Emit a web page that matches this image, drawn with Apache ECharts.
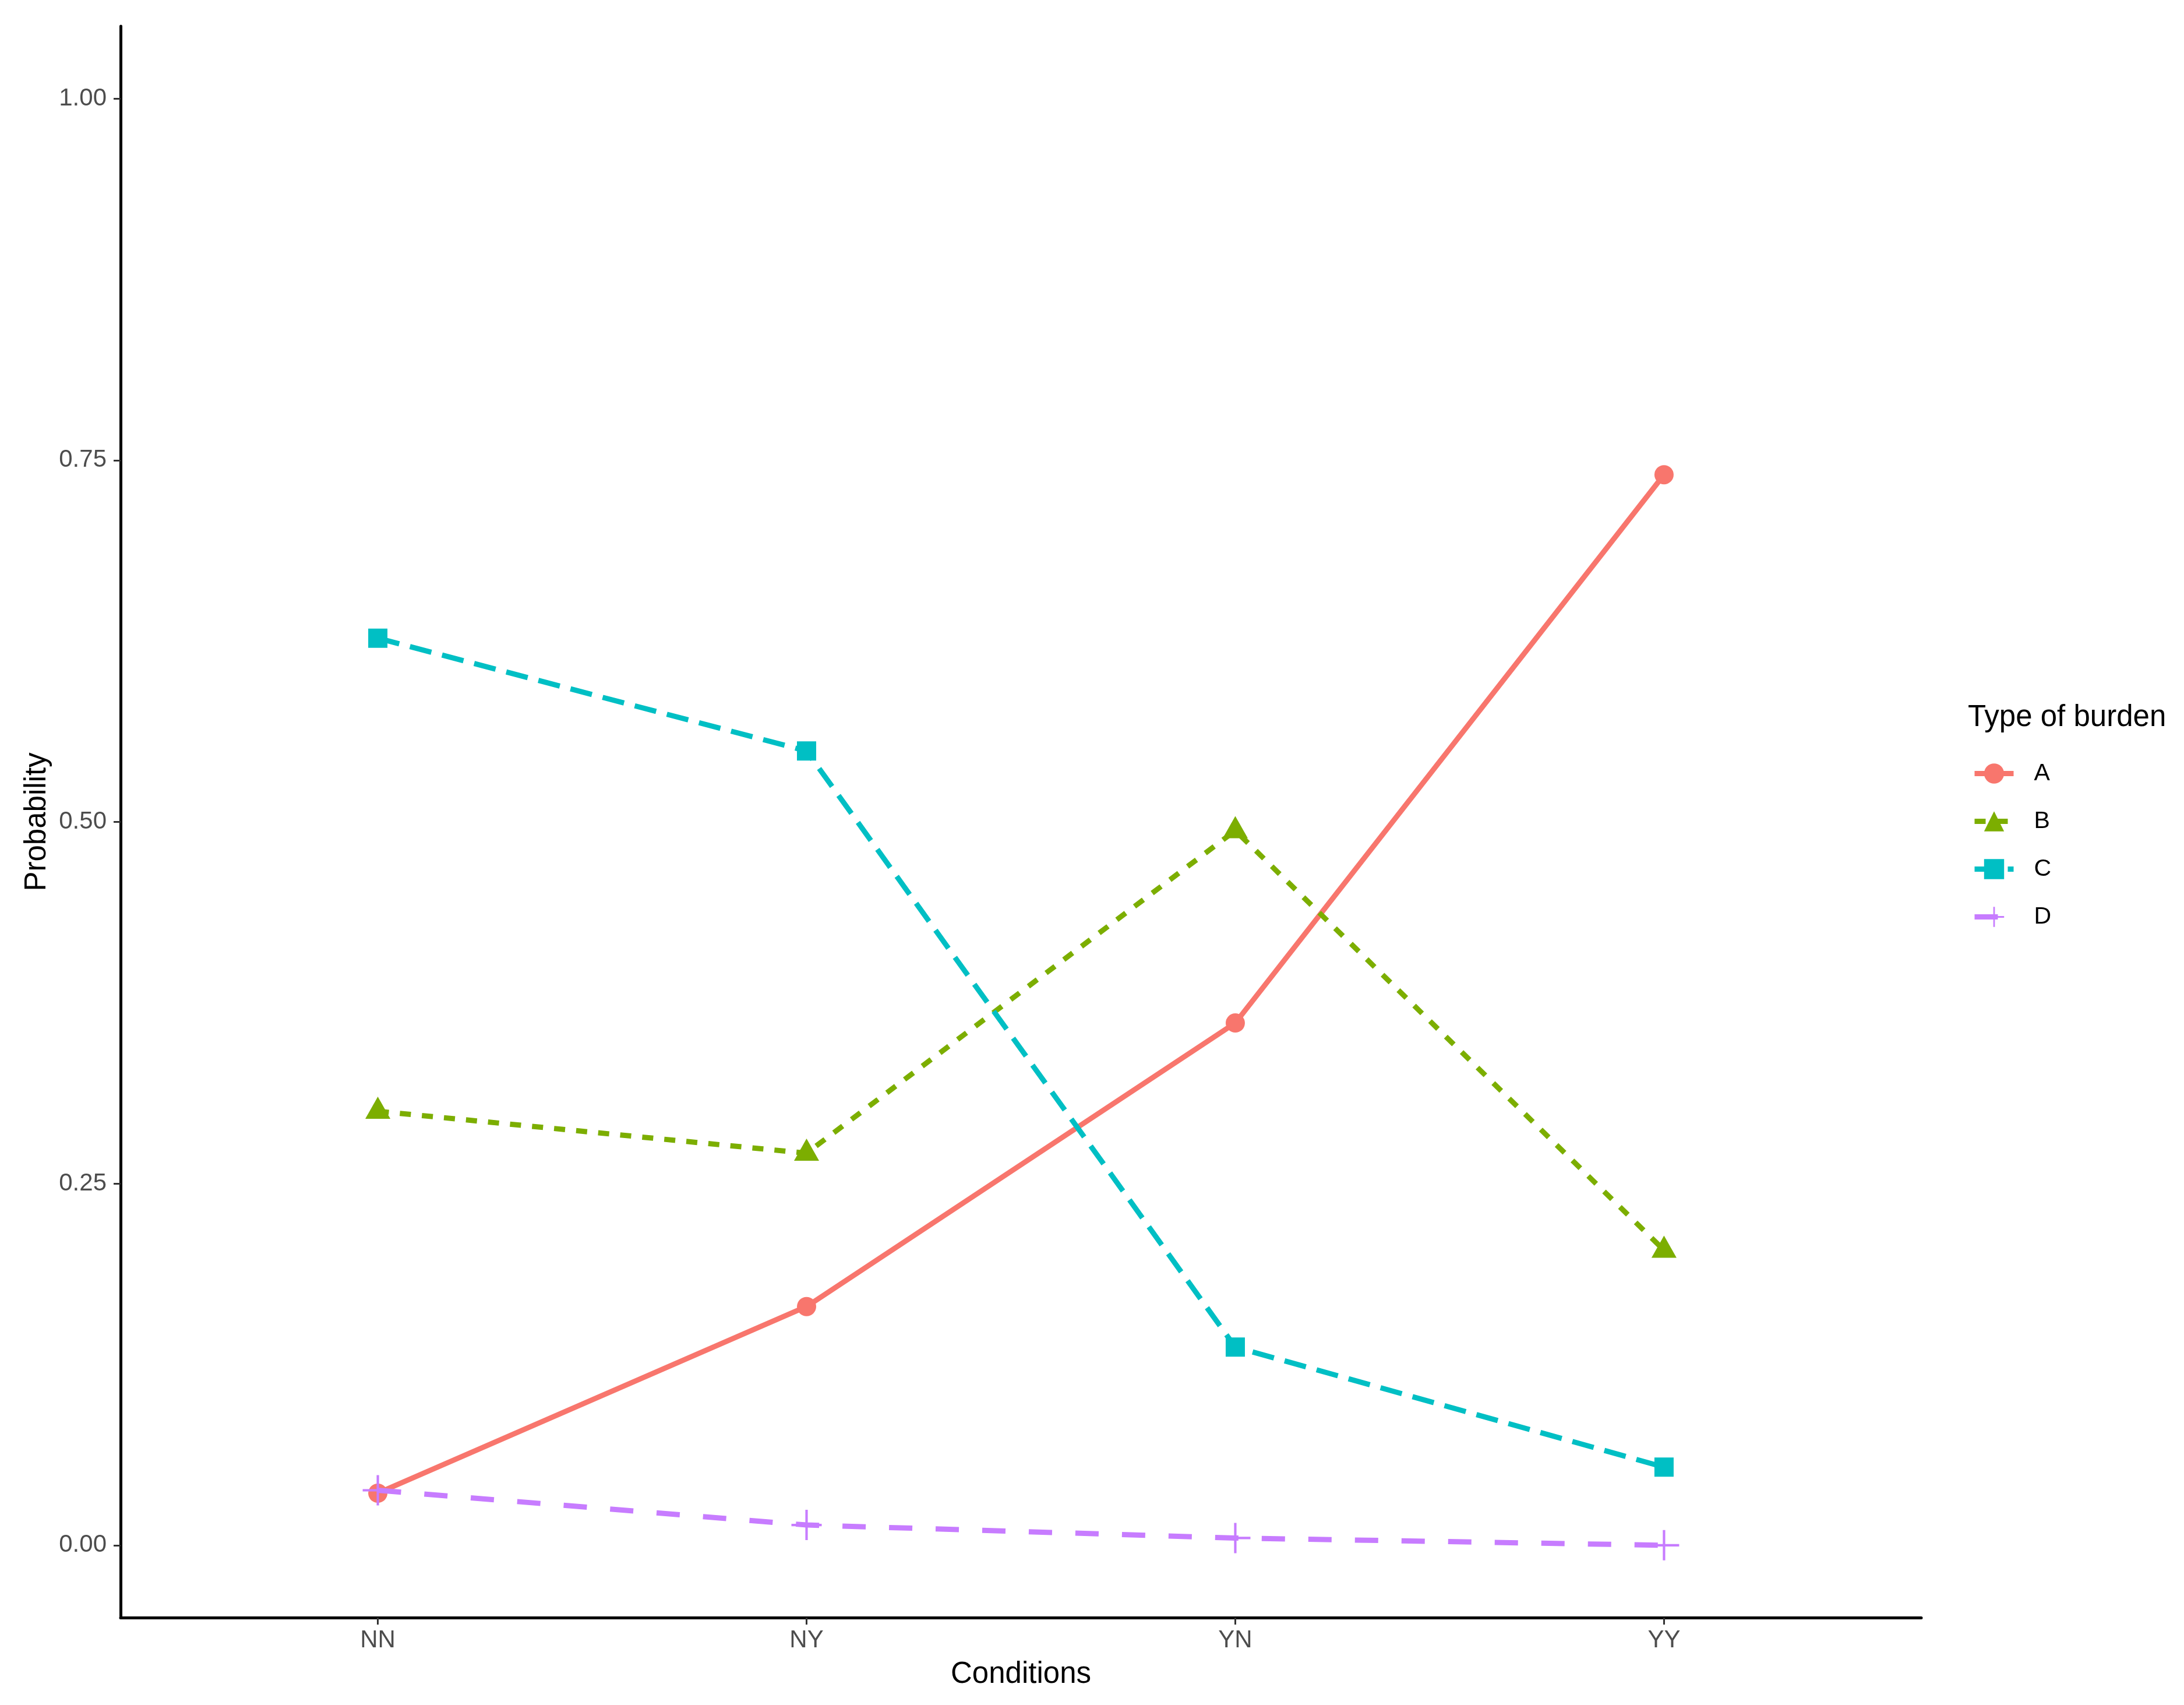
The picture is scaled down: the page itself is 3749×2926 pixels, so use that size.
<!DOCTYPE html>
<html><head><meta charset="utf-8">
<script src="https://cdn.jsdelivr.net/npm/echarts@6/dist/echarts.min.js"></script>
<style>html,body{margin:0;padding:0;background:#fff}#c{width:3749px;height:2926px}</style>
</head><body><div id="c"></div>
<script>
const categories = ['NN', 'NY', 'YN', 'YY'];
const seriesNames = ['A', 'B', 'C', 'D'];
const valuesA = [0.036, 0.165, 0.361, 0.740];
const valuesB = [0.300, 0.271, 0.494, 0.204];
const valuesC = [0.627, 0.549, 0.137, 0.054];
const valuesD = [0.038, 0.014, 0.005, 0.000];
const yTicks = [0, 0.25, 0.5, 0.75, 1.0];
const legendTitle = 'Type of burden';
const xTitle = 'Conditions';
const yTitle = 'Probability';

const colors = ['#F8766D', '#7CAE00', '#00BFC4', '#C77CFF'];
const FONT = '"Liberation Sans", Arial, Helvetica, sans-serif';
const plusPath = 'path://M0,4.6H4.6V0H5.4V4.6H10V5.4H5.4V10H4.6V5.4H0Z';

function pts(vals) { return vals.map((v, i) => [i, v]); }

const styles = [
  { symbol: 'circle', symbolSize: 33, symbolOffset: [0, 0], type: 'solid' },
  { symbol: 'triangle', symbolSize: [43, 38], symbolOffset: [0, -6], type: [19, 19] },
  { symbol: 'rect', symbolSize: 33, symbolOffset: [0, 0], type: [38, 19] },
  { symbol: plusPath, symbolSize: 52, symbolOffset: [0, 0], type: [40, 40] }
];
const allValues = [valuesA, valuesB, valuesC, valuesD];

const series = seriesNames.map((name, k) => ({
  name: name,
  type: 'line',
  data: pts(allValues[k]),
  symbol: styles[k].symbol,
  symbolSize: styles[k].symbolSize,
  symbolOffset: styles[k].symbolOffset,
  showAllSymbol: true,
  animation: false,
  z: 2 + k,
  itemStyle: { color: colors[k], opacity: 1 },
  lineStyle: { color: colors[k], width: 9, type: styles[k].type, cap: 'butt' },
  emphasis: { disabled: true }
}));

const chart = echarts.init(document.getElementById('c'), null, { renderer: 'canvas' });
chart.setOption({
  backgroundColor: '#ffffff',
  animation: false,
  title: {
    text: legendTitle,
    left: 3378,
    top: 1206,
    padding: 0,
    textStyle: { fontFamily: FONT, fontSize: 51, fontWeight: 'normal', color: '#000' }
  },
  legend: {
    data: seriesNames,
    orient: 'vertical',
    left: 3385,
    top: 1307,
    padding: 0,
    itemWidth: 67,
    itemHeight: 43,
    itemGap: 41,
    lineStyle: { width: 9 },
    textStyle: { fontFamily: FONT, fontSize: 41, color: '#000', padding: [0, 0, 0, 30] },
    selectedMode: false
  },
  grid: { left: 207, right: 451, top: 45, bottom: 150, containLabel: false },
  xAxis: {
    type: 'value',
    min: -0.6,
    max: 3.6,
    name: xTitle,
    nameLocation: 'middle',
    nameGap: 72,
    nameTextStyle: { fontFamily: FONT, fontSize: 51, color: '#000' },
    splitLine: { show: false },
    axisLine: { show: true, onZero: false, lineStyle: { color: '#000', width: 5 } },
    axisTick: { show: true, length: 12, customValues: [0, 1, 2, 3], lineStyle: { color: '#333', width: 3 } },
    axisLabel: {
      customValues: [0, 1, 2, 3],
      margin: 18,
      fontFamily: FONT, fontSize: 42, color: '#4D4D4D',
      formatter: v => categories[Math.round(v)]
    }
  },
  yAxis: {
    type: 'value',
    min: -0.05,
    max: 1.05,
    name: yTitle,
    nameLocation: 'middle',
    nameGap: 118,
    nameRotate: 90,
    nameTextStyle: { fontFamily: FONT, fontSize: 51, color: '#000' },
    splitLine: { show: false },
    axisLine: { show: true, onZero: false, lineStyle: { color: '#000', width: 5 } },
    axisTick: { show: true, length: 12, customValues: yTicks, lineStyle: { color: '#333', width: 3 } },
    axisLabel: {
      customValues: yTicks,
      margin: 24,
      fontFamily: FONT, fontSize: 42, color: '#4D4D4D',
      formatter: v => v.toFixed(2)
    }
  },
  series: series
});
</script>
</body></html>
